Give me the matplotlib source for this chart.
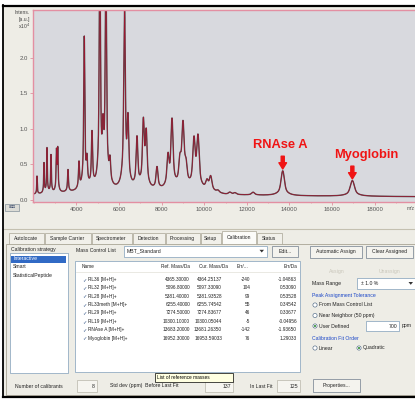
import numpy as np
import matplotlib
matplotlib.use('Agg')
import matplotlib.pyplot as plt
from matplotlib.patches import Rectangle, Circle, Polygon

plt.rcParams['font.family'] = ['Liberation Sans', 'DejaVu Sans']

# spectrum: peak list (m/z, intensity x10^4 above baseline)
peak_mz = [2146, 2474, 2615, 2803, 3060, 3120, 3600, 4117, 4365, 4493, 4728,
           5096, 5244, 5381, 5573, 6255, 6418, 6840, 7140, 7274, 7780, 8296,
           8484, 8859, 9000, 9140, 9516, 9704, 10127, 10300, 10640, 11200,
           11440, 12290, 13683, 16952]
peak_int = [0.25, 0.42, 0.63, 0.53, 0.55, 0.58, 0.31, 0.37, 2.13, 0.33, 0.76,
            3.2, 0.58, 3.0, 0.30, 2.48, 0.87, 0.70, 0.90, 0.74, 0.31, 0.42,
            0.95, 0.33, 0.86, 0.26, 0.66, 0.71, 0.12, 0.20, 0.03, 0.03,
            0.025, 0.04, 0.35, 0.22]
base_mz = [1960, 3000, 4500, 6500, 8500, 10200, 11000, 14000, 20000]
base_int = [0.07, 0.08, 0.11, 0.10, 0.10, 0.09, 0.06, 0.05, 0.04]

# calibrant table
cal_names = ['RL36 [M+H]+', 'RL32 [M+H]+', 'RL28 [M+H]+', 'RL33meth [M+H]+',
             'RL29 [M+H]+', 'RL19 [M+H]+', 'RNAse A [M+H]+', 'Myoglobin [M+H]+']
ref_mass = [4365.3, 5096.8, 5381.4, 6255.4, 7274.5, 10300.1, 13683.2, 16952.3]
cur_mass = [4364.25137, 5097.33090, 5381.93528, 6255.74542, 7274.83677,
            10300.05044, 13681.26350, 16953.59033]
err_ppm = [-240, 104, 99, 55, 46, -5, -142, 76]
err_da = [-1.04863, 0.53090, 0.53528, 0.34542, 0.33677, -0.04956, -1.93650, 1.29033]

tabs = ['Autolocate', 'Sample Carrier', 'Spectrometer', 'Detection',
        'Processing', 'Setup', 'Calibration', 'Status']
tab_edges = [8, 44, 91, 132, 165, 200, 221, 256, 282]
strategies = ['Interactive', 'Smart', 'StatisticalPeptide']

BG = '#eeede6'
EDGE = '#a8a494'
FS = 3.7

fig = plt.figure(figsize=(4.15, 4.0), dpi=100)
ui = fig.add_axes([0, 0, 1, 1])
ui.set_xlim(0, 415)
ui.set_ylim(400, 0)
ui.axis('off')


def box(x0, y0, x1, y1, fc='white', ec=EDGE, lw=0.5, z=1):
    ui.add_patch(Rectangle((x0, y0), x1 - x0, y1 - y0, fc=fc, ec=ec, lw=lw, zorder=z))


def txt(x, y, s, ha='left', color='#222222', size=FS, **kw):
    ui.text(x, y, s, ha=ha, va='center', color=color, fontsize=size, zorder=5, **kw)


def button(x0, y0, x1, y1, label):
    box(x0, y0, x1, y1, fc='#f4f3ee', ec='#6f7d8c', lw=0.5)
    txt((x0 + x1) / 2, (y0 + y1) / 2, label, ha='center')


def radio(x, y, label, on=False):
    ui.add_patch(Circle((x, y), 2.1, fc='white', ec='#3c5a7a', lw=0.4, zorder=4))
    if on:
        ui.add_patch(Circle((x, y), 1.0, fc='#2a8a2a', ec='none', zorder=5))
    txt(x + 3.5, y, label)


# window frame
box(0, 0, 415, 400, fc='white', ec='none', z=0)
box(3, 5, 416, 397, fc=BG, ec='none', z=0)
ui.plot([3, 415], [5.5, 5.5], color='black', lw=1.6, zorder=6)
ui.plot([3, 3], [5, 397], color='black', lw=1.3, zorder=6)
ui.plot([3, 415], [396.5, 396.5], color='black', lw=1.6, zorder=6)
ui.plot([3, 415], [228.5, 228.5], color='#c4c0b0', lw=0.8)

# y label and small icon of the spectrum view
txt(30, 12.5, 'Intens.', ha='right', size=3.6, color='#444444')
txt(30, 19.5, '[a.u.]', ha='right', size=3.6, color='#444444')
txt(30, 26.5, 'x10$^4$', ha='right', size=3.6, color='#444444')
box(5, 204, 19, 211, fc='#dcdcd6', ec='#6a7a8a', lw=0.4)
txt(12, 207.5, '⊞⊡', ha='center', size=3.2, color='#3a4a6a')
txt(407, 208, 'm/z', size=3.6, color='#555555')

# tabs
box(6, 244, 416, 395, fc=BG, ec=EDGE, lw=0.6)
for i, name in enumerate(tabs):
    x0, x1 = tab_edges[i] + 0.5, tab_edges[i + 1] - 0.5
    active = name == 'Calibration'
    y0 = 231 if active else 233
    box(x0, y0, x1, 244.3 if active else 244, fc='#fbfbf8' if active else '#f1f0ea',
        ec=EDGE, lw=0.5, z=2 if active else 1)
    txt((x0 + x1) / 2, (y0 + 244) / 2, name, ha='center', size=3.6)

# calibration strategy list
txt(11, 249, 'Calibration strategy')
box(10, 253, 68, 373, ec='#7f9db9')
box(11, 255.5, 66, 262.5, fc='#316ac5', ec='none', z=2)
for i, s in enumerate(strategies):
    txt(13, 259 + 8 * i, s, color='white' if i == 0 else '#222222')

# mass control list row
txt(76, 251, 'Mass Control List')
box(124, 246, 267, 256.5, ec='#7f9db9')
txt(127, 251.3, 'MBT_Standard')
ui.add_patch(Polygon([[259.5, 249.8], [264, 249.8], [261.75, 252.5]], fc='#333333', zorder=4))
button(272, 246, 298, 257, 'Edit...')
button(310, 246, 362, 258, 'Automatic Assign')
button(366, 246, 413, 258, 'Clear Assigned')
txt(337, 272, 'Assign', ha='center', color='#c9c6ba')
txt(389, 272, 'Unassign', ha='center', color='#c9c6ba')

# calibrant table
box(75, 261, 300, 372, ec='#7f9db9')
ui.plot([76, 299], [271.5, 271.5], color='#e2e0d8', lw=0.5, zorder=3)
TS = 3.4
txt(82, 267, 'Name', size=TS)
txt(190, 267, 'Ref. Mass/Da', ha='right', size=TS)
txt(199, 267, 'Cur. Mass/Da', size=TS)
txt(237, 267, 'Err/...', size=TS)
txt(297, 267, 'Err/Da', ha='right', size=TS)
for i in range(len(cal_names)):
    y = 279.3 + 8.4 * i
    txt(82, y, '✓', size=3.8, color='#3a5a8a')
    txt(88, y, cal_names[i], size=TS)
    txt(190, y, f'{ref_mass[i]:.5f}', ha='right', size=TS)
    txt(222, y, f'{cur_mass[i]:.5f}', ha='right', size=TS)
    txt(250, y, f'{err_ppm[i]}', ha='right', size=TS)
    txt(297, y, f'{err_da[i]:.5f}', ha='right', size=TS)

# assignment options
txt(312, 283.5, 'Mass Range')
box(357, 278, 416, 289, ec='#7f9db9')
txt(361, 283.5, '± 1.0 %')
ui.add_patch(Polygon([[408.5, 282], [413, 282], [410.75, 284.8]], fc='#333333', zorder=4))
txt(312, 295, 'Peak Assignment Tolerance', color='#1a46c8')
radio(315, 305, 'From Mass Control List')
radio(315, 315.5, 'Near Neighbor (50 ppm)')
radio(315, 326, 'User Defined', on=True)
box(366, 321, 399, 331, ec='#7f9db9')
txt(397, 326, '700', ha='right')
txt(402, 326, 'ppm')
txt(312, 338, 'Calibration Fit Order', color='#1a46c8')
radio(315, 348, 'Linear')
radio(359, 348, 'Quadratic', on=True)

# bottom status row
txt(15, 386, 'Number of calibrants')
box(77, 380, 97, 392, fc='#f6f5f0', ec='#b8b6aa')
txt(95, 386, str(len(cal_names)), ha='right')
txt(110, 386, 'Std dev (ppm)  Before Last Fit')
box(205, 380, 233, 392, fc='#f6f5f0', ec='#b8b6aa')
txt(231, 386, '137', ha='right')
txt(250, 386, 'In Last Fit')
box(277, 380, 300, 392, fc='#f6f5f0', ec='#b8b6aa')
txt(298, 386, '125', ha='right')
button(313, 379, 360, 392, 'Properties...')
box(155, 373, 233, 382, fc='#ffffe1', ec='black', lw=0.5, z=6)
ui.text(157, 377.5, 'List of reference masses', va='center', fontsize=3.4, zorder=7)

# spectrum
mz = np.arange(1958, 19940, 2.0)
inten = np.interp(mz, base_mz, base_int)
for m, h in zip(peak_mz, peak_int):
    d = mz - m
    s = 0.005 * m
    g = 0.014 * m
    inten = inten + h * (0.62 * np.exp(-0.5 * (d / s) ** 2) + 0.38 / (1 + (d / g) ** 2))

sp = fig.add_axes([33 / 415, 1 - 202 / 400, 383 / 415, 192 / 400])
sp.set_facecolor('#d8d9de')
sp.plot(mz, inten, color='#505050', lw=1.0)
sp.plot(mz, inten, color='#a3122e', lw=0.55, alpha=0.9)
sp.set_xlim(1958, 19940)
sp.set_ylim(-0.035, 2.67)
sp.set_xticks(np.arange(4000, 18001, 2000))
sp.set_xticks(np.arange(2000, 19001, 1000), minor=True)
sp.set_yticks([0, 0.5, 1.0, 1.5, 2.0])
sp.set_yticklabels(['0.0', '0.5', '1.0', '1.5', '2.0'])
sp.tick_params(axis='both', which='major', labelsize=4.3, labelcolor='#555555',
               color='#e090a0', length=2, width=0.6, pad=1.5)
sp.tick_params(axis='both', which='minor', color='#e090a0', length=1, width=0.5)
for s in sp.spines.values():
    s.set_color('#e38fa2')
    s.set_linewidth(1.0)

arrow = dict(arrowstyle='simple,head_length=0.45,head_width=0.55,tail_width=0.22',
             color='#f01414', shrinkA=0, shrinkB=0, mutation_scale=10)
sp.annotate('', xy=(13683, 0.43), xytext=(13683, 0.61), arrowprops=arrow)
sp.annotate('', xy=(16952, 0.29), xytext=(16952, 0.47), arrowprops=arrow)
sp.text(13560, 0.77, 'RNAse A', color='#f01414', fontsize=9.3, fontweight='bold',
        ha='center', va='center')
sp.text(17600, 0.63, 'Myoglobin', color='#f01414', fontsize=9.3, fontweight='bold',
        ha='center', va='center')

fig.savefig('out.png', dpi=100, facecolor='white')
